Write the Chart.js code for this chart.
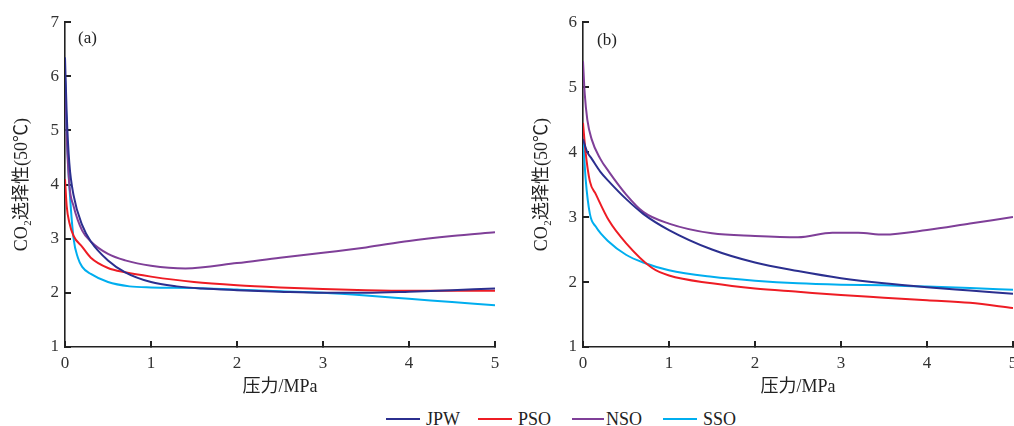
<!DOCTYPE html>
<html>
<head>
<meta charset="utf-8">
<script src="https://cdn.jsdelivr.net/npm/chart.js@4/dist/chart.umd.min.js"></script>
<style>
  html, body { margin: 0; padding: 0; background: #fff; width: 1014px; height: 426px; overflow: hidden; position: relative; }
  canvas { position: absolute; top: 0; }
  #cA { left: 0; }
  #cB { left: 520px; }
  .lbl { position: absolute; font-family: "Liberation Serif", "Noto Sans CJK SC", serif; font-size: 17px; color: #222; line-height: 1; }
  .leg { position: absolute; top: 410px; font-family: "Liberation Serif", serif; font-size: 18px; color: #222; line-height: 18px; display: flex; align-items: center; }
  .leg span.ln { display: inline-block; height: 2px; width: 34px; margin-right: 6px; }
</style>
</head>
<body>
<canvas id="cA" width="520" height="400"></canvas>
<canvas id="cB" width="540" height="400"></canvas>
<div class="lbl" style="left:78px; top:29px;">(a)</div>
<div class="lbl" style="left:597px; top:31px;">(b)</div>
<div class="leg" style="left:386px;"><span class="ln" style="background:#2B2F8F"></span>JPW</div>
<div class="leg" style="left:478px;"><span class="ln" style="background:#EE1C24"></span>PSO</div>
<div class="leg" style="left:572px;"><span class="ln" style="background:#7F3F98;width:32px;margin-right:2px"></span>NSO</div>
<div class="leg" style="left:663px;"><span class="ln" style="background:#00AEEF"></span>SSO</div>
<script>
// ---------- Data ----------
const seriesNames = ['JPW', 'PSO', 'NSO', 'SSO'];
const seriesColors = ['#2B2F8F', '#EE1C24', '#7F3F98', '#00AEEF'];
const xTicks = [0, 1, 2, 3, 4, 5];
const yTicksA = [1, 2, 3, 4, 5, 6, 7];
const yTicksB = [1, 2, 3, 4, 5, 6];

// Panel (a)
const pA_JPW = [0, 0.02, 0.05, 0.1, 0.2, 0.3, 0.5, 0.7, 1.0, 1.3, 1.6, 2, 2.5, 3, 3.5, 4, 4.5, 5];
const vA_JPW = [6.35, 5.3, 4.4, 3.8, 3.25, 2.95, 2.6, 2.38, 2.2, 2.12, 2.08, 2.05, 2.02, 2.0, 2.0, 2.02, 2.05, 2.08];
const pA_PSO = [0, 0.02, 0.05, 0.1, 0.2, 0.3, 0.5, 0.7, 1, 1.5, 2, 2.5, 3, 3.5, 4, 4.5, 5];
const vA_PSO = [4.1, 3.6, 3.3, 3.05, 2.85, 2.65, 2.46, 2.38, 2.3, 2.2, 2.14, 2.1, 2.07, 2.05, 2.04, 2.04, 2.04];
const pA_NSO = [0, 0.02, 0.05, 0.1, 0.2, 0.3, 0.5, 0.7, 1.0, 1.4, 2, 2.5, 3, 3.5, 4, 4.5, 5];
const vA_NSO = [6.0, 4.9, 4.0, 3.6, 3.15, 2.95, 2.72, 2.6, 2.5, 2.45, 2.55, 2.65, 2.74, 2.84, 2.96, 3.05, 3.12];
const pA_SSO = [0, 0.02, 0.05, 0.1, 0.15, 0.2, 0.3, 0.5, 0.75, 1, 1.5, 2, 2.5, 3, 3.5, 4, 4.5, 5];
const vA_SSO = [6.0, 5.0, 4.0, 3.0, 2.65, 2.48, 2.35, 2.2, 2.12, 2.1, 2.09, 2.06, 2.03, 2.0, 1.95, 1.89, 1.83, 1.77];

// Panel (b)
const pB_JPW = [0, 0.05, 0.1, 0.2, 0.3, 0.5, 0.7, 1.0, 1.5, 2, 2.5, 3, 3.5, 4, 4.5, 5];
const vB_JPW = [4.2, 4.0, 3.9, 3.7, 3.55, 3.28, 3.05, 2.8, 2.5, 2.3, 2.17, 2.06, 1.98, 1.92, 1.87, 1.82];
const pB_PSO = [0, 0.03, 0.08, 0.15, 0.3, 0.5, 0.8, 1.0, 1.5, 2, 2.5, 3, 3.5, 4, 4.5, 5];
const vB_PSO = [4.45, 4.0, 3.55, 3.35, 2.95, 2.6, 2.22, 2.1, 1.98, 1.9, 1.85, 1.8, 1.76, 1.72, 1.68, 1.6];
const pB_NSO = [0, 0.02, 0.05, 0.1, 0.2, 0.3, 0.5, 0.7, 1.0, 1.5, 2, 2.5, 2.9, 3.2, 3.5, 4, 4.5, 5];
const vB_NSO = [5.4, 4.9, 4.5, 4.2, 3.9, 3.7, 3.35, 3.08, 2.9, 2.75, 2.71, 2.69, 2.76, 2.76, 2.73, 2.8, 2.9, 3.0];
const pB_SSO = [0, 0.03, 0.08, 0.15, 0.3, 0.5, 0.7, 1.0, 1.5, 2, 2.5, 3, 3.5, 4, 4.5, 5];
const vB_SSO = [4.25, 3.6, 3.05, 2.85, 2.62, 2.42, 2.3, 2.18, 2.08, 2.02, 1.98, 1.96, 1.95, 1.93, 1.91, 1.88];

const xTitle = '压力/MPa';
const yTitle = 'CO₂选择性(50℃)';

// ---------- Build ----------
function pts(p, v) { return p.map((x, i) => ({ x: x, y: v[i] })); }
function makeDatasets(list) {
  return list.map((d, i) => ({
    label: seriesNames[i],
    data: pts(d[0], d[1]),
    borderColor: seriesColors[i],
    backgroundColor: seriesColors[i],
    borderWidth: 2,
    pointRadius: 0,
    cubicInterpolationMode: 'monotone',
    fill: false
  }));
}

const FONT = '"Liberation Serif", "Noto Sans CJK SC", serif';
const innerGrid = { display: true, drawOnChartArea: false, drawTicks: true, tickLength: -6, color: '#222', lineWidth: 2 };

function makeChart(id, datasets, yTicks, padTop, padRight, yWidth) {
  return new Chart(document.getElementById(id), {
    type: 'line',
    data: { datasets: datasets },
    options: {
      responsive: false,
      animation: false,
      layout: { padding: { left: 0, right: padRight, top: padTop, bottom: 0 } },
      plugins: { legend: { display: false }, tooltip: { enabled: false } },
      scales: {
        x: {
          type: 'linear', min: xTicks[0], max: xTicks[xTicks.length - 1],
          afterBuildTicks: s => { s.ticks = xTicks.map(v => ({ value: v })); },
          afterFit: s => { s.height = 53; },
          grid: innerGrid,
          border: { display: true, color: '#222', width: 1.6 },
          ticks: { padding: 12, color: '#333', font: { family: FONT, size: 17 }, maxRotation: 0 },
          title: { display: true, text: xTitle, color: '#222', font: { family: FONT, size: 18 }, padding: { top: 0, bottom: 2 } }
        },
        y: {
          type: 'linear', min: yTicks[0], max: yTicks[yTicks.length - 1],
          afterBuildTicks: s => { s.ticks = yTicks.map(v => ({ value: v })); },
          afterFit: s => { s.width = yWidth; },
          grid: innerGrid,
          border: { display: true, color: '#222', width: 1.6 },
          ticks: { padding: 12, color: '#333', font: { family: FONT, size: 17 } },
          title: { display: true, text: yTitle, color: '#222', font: { family: FONT, size: 18 }, padding: { top: 11, bottom: 0 } }
        }
      }
    }
  });
}

makeChart('cA', makeDatasets([[pA_JPW, vA_JPW], [pA_PSO, vA_PSO], [pA_NSO, vA_NSO], [pA_SSO, vA_SSO]]), yTicksA, 19, 25, 65);
makeChart('cB', makeDatasets([[pB_JPW, vB_JPW], [pB_PSO, vB_PSO], [pB_NSO, vB_NSO], [pB_SSO, vB_SSO]]), yTicksB, 21, 47, 63);
</script>
</body>
</html>
